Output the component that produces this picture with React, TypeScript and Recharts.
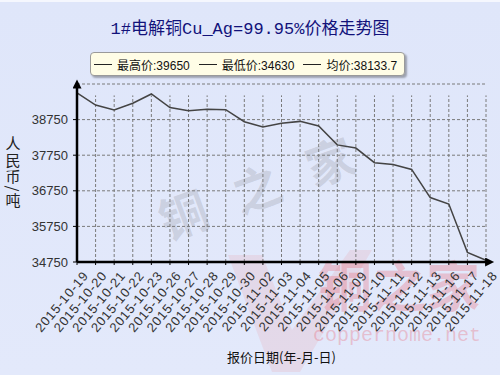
import { LineChart, Line, XAxis, YAxis, CartesianGrid, ReferenceLine, Label } from "recharts";

const dates = [
  "2015-10-19", "2015-10-20", "2015-10-21", "2015-10-22", "2015-10-23",
  "2015-10-26", "2015-10-27", "2015-10-28", "2015-10-29", "2015-10-30",
  "2015-11-02", "2015-11-03", "2015-11-04", "2015-11-05", "2015-11-06",
  "2015-11-09", "2015-11-10", "2015-11-11", "2015-11-12", "2015-11-13",
  "2015-11-16", "2015-11-17", "2015-11-18",
];

const prices = [
  39500, 39160, 39020, 39210, 39470, 39090, 39000, 39040, 39030, 38690,
  38540, 38650, 38700, 38570, 38040, 37950, 37540, 37490, 37350, 36560,
  36380, 35020, 34800,
];

const yTicks = [34750, 35750, 36750, 37750, 38750];

const statNames = ["最高价", "最低价", "均价"];
const statValues = ["39650", "34630", "38133.7"];

const data = dates.map((date, i) => ({ date, price: prices[i] }));

const Y_MIN = 34750;
const Y_MAX = 39750;
const GRID_TOP = 39430;

function UnitLabel() {
  return (
    <text
      x={13}
      y={136}
      fontSize={15}
      letterSpacing={1.5}
      fill="#222"
      fontFamily="Noto Sans CJK SC, sans-serif"
      style={{ writingMode: "vertical-rl" }}
    >
      人民币/吨
    </text>
  );
}

export default function App() {
  return (
    <div
      style={{
        position: "fixed",
        left: 0,
        top: 0,
        width: 500,
        height: 375,
        overflow: "hidden",
        background: "linear-gradient(#dfe6fa, #e3e9fb)",
        borderTop: "2px solid #f5f7fe",
        boxSizing: "border-box",
      }}
    >
      {/* watermarks */}
      <div
        style={{
          position: "absolute",
          left: 148,
          top: 186,
          fontSize: 48,
          letterSpacing: 30,
          color: "rgba(140,140,150,0.27)",
          fontFamily: "'Noto Sans CJK SC', sans-serif",
          fontWeight: 700,
          transform: "rotate(-20deg)",
          transformOrigin: "left top",
          whiteSpace: "nowrap",
          zIndex: 0,
        }}
      >
        铜之家
      </div>
      <svg width={500} height={375} style={{ position: "absolute", left: 0, top: -2, zIndex: 0 }}>
        <path d="M228 255 L262 255 L292 330 L350 250 L372 250 L300 372 L272 372 Z" fill="rgba(235,120,130,0.14)" />
      </svg>
      <div
        style={{
          position: "absolute",
          left: 318,
          top: 242,
          fontSize: 54,
          color: "rgba(232,100,115,0.3)",
          fontFamily: "'Noto Sans CJK SC', sans-serif",
          fontWeight: 700,
          whiteSpace: "nowrap",
          zIndex: 0,
        }}
      >
        铜之家
      </div>
      <div
        style={{
          position: "absolute",
          left: 313,
          top: 322,
          fontSize: 20,
          color: "rgba(232,100,115,0.32)",
          fontFamily: "'Liberation Mono', monospace",
          whiteSpace: "nowrap",
          zIndex: 0,
        }}
      >
        coppernome.net
      </div>

      <div
        style={{
          position: "absolute",
          left: 0,
          top: 12,
          width: 500,
          textAlign: "center",
          fontSize: 17,
          color: "#12127a",
          fontFamily: "'Liberation Mono', 'Noto Sans CJK SC', monospace",
          zIndex: 2,
        }}
      >
        1#电解铜Cu_Ag=99.95%价格走势图
      </div>

      <div
        style={{
          position: "absolute",
          left: 90,
          top: 50,
          width: 315,
          height: 24,
          boxSizing: "border-box",
          background: "#fffde6",
          border: "1px solid #9a9a9a",
          borderRadius: 4,
          boxShadow: "2px 2px 2px rgba(0,0,0,0.3)",
          display: "flex",
          alignItems: "center",
          paddingLeft: 3,
          gap: 9,
          fontSize: 12,
          color: "#111",
          fontFamily: "'Liberation Sans', 'Noto Sans CJK SC', sans-serif",
          zIndex: 2,
        }}
      >
        {statNames.map((name, i) => (
          <div key={name} style={{ display: "flex", alignItems: "center", whiteSpace: "nowrap" }}>
            <span style={{ display: "inline-block", width: 18, borderTop: "1px solid #222", marginRight: 5 }} />
            <span>
              {name}:{statValues[i]}
            </span>
          </div>
        ))}
      </div>

      <div style={{ position: "absolute", left: 0, top: -2, zIndex: 1 }}>
        <LineChart width={500} height={375} data={data} margin={{ top: 84, right: 14, bottom: 0, left: 0 }}>
          <defs>
            <marker
              id="arrowX"
              viewBox="0 0 10 10"
              refX="1"
              refY="5"
              markerWidth="11"
              markerHeight="9"
              markerUnits="userSpaceOnUse"
              orient="auto-start-reverse"
            >
              <path d="M0,0 L10,5 L0,10 z" fill="#000" />
            </marker>
            <marker
              id="arrowY"
              viewBox="0 0 10 10"
              refX="5"
              refY="5"
              markerWidth="10"
              markerHeight="9"
              markerUnits="userSpaceOnUse"
              orient="auto-start-reverse"
            >
              <path d="M0,0 L10,5 L0,10 z" fill="#000" />
            </marker>
          </defs>
          <CartesianGrid vertical={false} stroke="#7a7a7a" strokeDasharray="3 2" />
          {dates.slice(1).map((d) => (
            <ReferenceLine
              key={d}
              segment={[
                { x: d, y: Y_MIN },
                { x: d, y: GRID_TOP },
              ]}
              stroke="#7a7a7a"
              strokeDasharray="3 2"
            />
          ))}
          <XAxis
            dataKey="date"
            height={113}
            interval={0}
            angle={-50}
            textAnchor="end"
            tick={{
              fontSize: 13,
              letterSpacing: 0.8,
              fill: "#333",
              fontFamily: "Liberation Sans, Arial, sans-serif",
              dx: 5,
              dy: 3,
            }}
            tickSize={3}
            tickLine={{ stroke: "#000" }}
            axisLine={{ stroke: "#000", strokeWidth: 2.5, markerEnd: "url(#arrowX)" }}
          >
            <Label
              value="报价日期(年-月-日)"
              position="insideBottom"
              offset={13}
              fontSize={13}
              fill="#111"
              fontFamily="Noto Sans CJK SC, sans-serif"
            />
          </XAxis>
          <YAxis
            width={77}
            domain={[Y_MIN, Y_MAX]}
            ticks={yTicks}
            tickSize={4}
            tickMargin={5}
            tick={{ fontSize: 13, fill: "#333", fontFamily: "Liberation Sans, Arial, sans-serif" }}
            tickLine={{ stroke: "#000" }}
            axisLine={{ stroke: "#000", strokeWidth: 2.5, markerStart: "url(#arrowY)" }}
          >
            <Label content={<UnitLabel />} />
          </YAxis>
          <Line
            type="linear"
            dataKey="price"
            stroke="#444"
            strokeWidth={1.5}
            dot={false}
            isAnimationActive={false}
          />
        </LineChart>
      </div>
    </div>
  );
}
